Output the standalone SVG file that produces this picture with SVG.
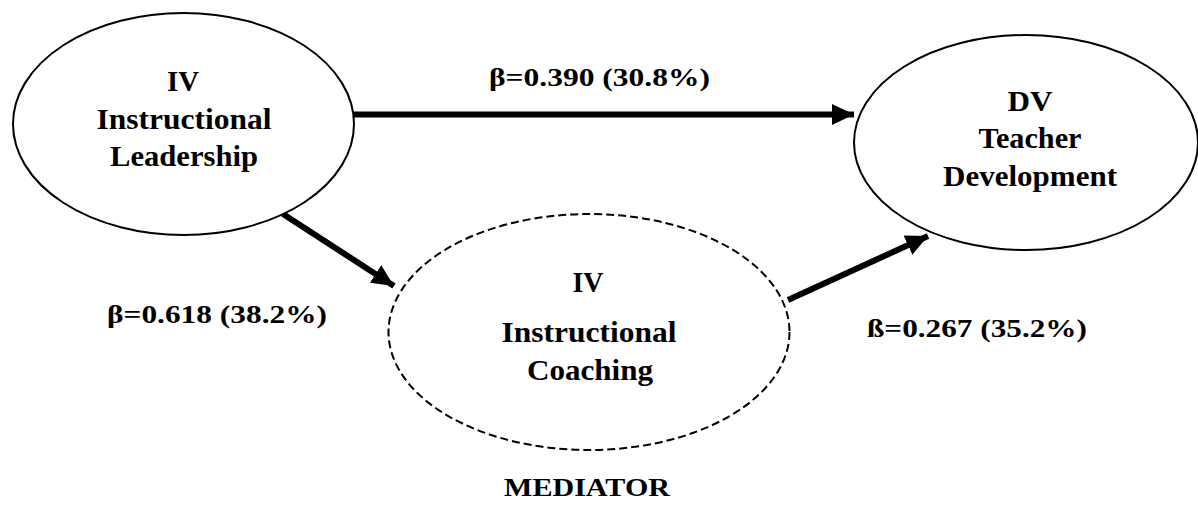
<svg xmlns="http://www.w3.org/2000/svg" width="1198" height="507" viewBox="0 0 1198 507">
<style>
.node{fill:#fff;stroke:#000;stroke-width:2}
.dash{stroke-dasharray:8 4}
.t{font-family:'Liberation Serif',serif;font-weight:bold;font-size:29px;fill:#000;text-anchor:middle}
.lab{font-family:'Liberation Serif',serif;font-weight:bold;font-size:26px;fill:#000}
.conn{stroke:#000;stroke-width:6;fill:none;marker-end:url(#ah)}
</style>
<defs>
<marker id="ah" markerUnits="userSpaceOnUse" markerWidth="24" markerHeight="24" viewBox="0 0 24 24" refX="22" refY="12" orient="auto">
<path d="M0,1.5 L22,12 L0,22.5 Z" fill="#000"/>
</marker>
</defs>
<rect width="1198" height="507" fill="#fff"/>
<g id="connectors">
<line class="conn" x1="354" y1="114.5" x2="854" y2="114.5"/>
<line class="conn" x1="283" y1="214" x2="394" y2="286"/>
<line class="conn" x1="788" y1="300" x2="928" y2="236"/>
</g>
<g id="iv-leadership">
<ellipse class="node" cx="183.5" cy="124" rx="170.5" ry="111"/>
<text class="t" x="183" y="91" textLength="32" lengthAdjust="spacingAndGlyphs">IV</text>
<text class="t" x="184" y="129" textLength="175" lengthAdjust="spacingAndGlyphs">Instructional</text>
<text class="t" x="184" y="166" textLength="148" lengthAdjust="spacingAndGlyphs">Leadership</text>
</g>
<g id="dv-development">
<ellipse class="node" cx="1026" cy="142.5" rx="172" ry="107.5"/>
<text class="t" x="1030" y="111" textLength="45" lengthAdjust="spacingAndGlyphs">DV</text>
<text class="t" x="1030" y="148" textLength="103" lengthAdjust="spacingAndGlyphs">Teacher</text>
<text class="t" x="1030" y="186" textLength="174" lengthAdjust="spacingAndGlyphs">Development</text>
</g>
<g id="iv-coaching">
<ellipse class="node dash" cx="589" cy="332" rx="200.5" ry="118"/>
<text class="t" x="588" y="292" textLength="31" lengthAdjust="spacingAndGlyphs">IV</text>
<text class="t" x="589" y="342" textLength="175" lengthAdjust="spacingAndGlyphs">Instructional</text>
<text class="t" x="590" y="380" textLength="126" lengthAdjust="spacingAndGlyphs">Coaching</text>
</g>
<g id="labels">
<text class="lab" x="489" y="86" textLength="221" lengthAdjust="spacingAndGlyphs">β=0.390 (30.8%)</text>
<text class="lab" x="107" y="323" textLength="220" lengthAdjust="spacingAndGlyphs">β=0.618 (38.2%)</text>
<text class="lab" x="867" y="337" textLength="220" lengthAdjust="spacingAndGlyphs">ß=0.267 (35.2%)</text>
<text class="lab" x="587" y="496" text-anchor="middle" font-size="29" textLength="166" lengthAdjust="spacingAndGlyphs">MEDIATOR</text>
</g>
</svg>
